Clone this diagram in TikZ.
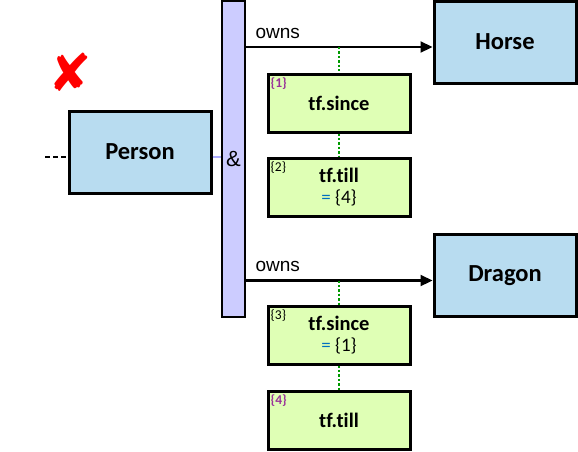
\documentclass[tikz,border=0pt]{standalone}
\usepackage{fontspec}
\setmainfont{Carlito}[Ligatures=CommonOff]
\newfontfamily\ownsfont{Liberation Sans}
\newfontfamily\symfont{DejaVu Sans}
\usepackage{xcolor}
\usetikzlibrary{arrows.meta, positioning}
\definecolor{classblue}{HTML}{B8DCF0}
\definecolor{attrgreen}{HTML}{DFFFB5}
\definecolor{barviolet}{HTML}{CCCCFF}
\definecolor{tagpurple}{HTML}{993399}
\definecolor{eqblue}{HTML}{0070C0}
\tikzstyle{cbox}   = [rectangle, draw=black, line width=3pt, fill=classblue,
                      minimum width=142pt, minimum height=82pt,
                      font=\bfseries\fontsize{24.5}{28}\selectfont]
\tikzstyle{abox}   = [rectangle, draw=black, line width=3pt, fill=attrgreen,
                      minimum width=142pt, minimum height=58pt, align=center,
                      font=\bfseries\fontsize{20.5}{22}\selectfont]
\tikzstyle{tag}    = [inner sep=0pt, font=\fontsize{13.5}{14}\selectfont]
\tikzstyle{ptag}   = [tag, text=tagpurple, font=\bfseries\fontsize{13.5}{14}\selectfont]
\tikzstyle{arrow}  = [-{Triangle[length=12pt, width=11pt]}, line width=2.2pt]
\tikzstyle{dline}  = [green!60!black, line width=2.4pt, dotted]
\newcommand{\eqval}[1]{\\[-1pt]{\mdseries\fontsize{19}{21}\selectfont
  \textcolor{eqblue}{=} \{#1\}}}

\begin{document}
\begin{tikzpicture}[x=1pt, y=-1pt]
  \useasboundingbox (0,0) rectangle (578,451);

  \node[cbox] (person) at (140,152) {Person};
  \node[draw=black, line width=2.4pt, fill=barviolet, minimum width=23pt,
        minimum height=316pt, inner sep=0pt,
        font=\ownsfont\fontsize{22}{22}\selectfont] (bar) at (233.5,159) {\&};
  \node[cbox] (horse)  at (505,42)  {Horse};
  \node[cbox] (dragon) at (505,275.5) {Dragon};

  \node[abox] (since1) at (339,103) {tf.since};
  \node[abox, below=23pt of since1] (till2) {tf.till\eqval{4}};
  \node[abox] (since3) at (339,335) {tf.since\eqval{1}};
  \node[abox, below=24pt of since3] (till4) {tf.till};

  \node[ptag, anchor=north west] (t1) at ([shift={(4pt,-5pt)}]since1.north west) {\{1\}};
  \node[tag,  anchor=north west] (t2) at ([shift={(4pt,-5pt)}]till2.north west)  {\{2\}};
  \node[tag,  anchor=north west] (t3) at ([shift={(4pt,-5pt)}]since3.north west) {\{3\}};
  \node[ptag, anchor=north west] (t4) at ([shift={(4pt,-5pt)}]till4.north west)  {\{4\}};

  \node[text=red, font=\symfont\fontsize{52}{54}\selectfont] (cross) at (70,72) {✘};

  % links from the person
  \coordinate (lead) at (45,157);
  \draw[dashed, line width=1.8pt, dash pattern=on 5pt off 3pt] (lead) -- (lead -| person.west);
  \draw[barviolet!85!blue, line width=1.2pt] ([yshift=-5pt]person.east) -- ([yshift=-5pt]person.east -| bar.west);

  \draw[arrow] ([yshift=-5pt]horse.west -| bar.east) -- ([yshift=-5pt]horse.west)
    node[pos=0, anchor=south west, xshift=5pt, yshift=4pt, font=\ownsfont\fontsize{19}{20}\selectfont] (own1) {owns};
  \draw[arrow] ([yshift=-5pt]dragon.west -| bar.east) -- ([yshift=-5pt]dragon.west)
    node[pos=0, anchor=south west, xshift=5pt, yshift=4pt, font=\ownsfont\fontsize{19}{20}\selectfont] (own2) {owns};

  % attribute chains
  \draw[dline] ([yshift=-5pt]since1.north |- horse.west) -- (since1.north);
  \draw[dline] (since1.south) -- (till2.north);
  \draw[dline] ([yshift=-5pt]since3.north |- dragon.west) -- (since3.north);
  \draw[dline] (since3.south) -- (till4.north);
\end{tikzpicture}
\end{document}
